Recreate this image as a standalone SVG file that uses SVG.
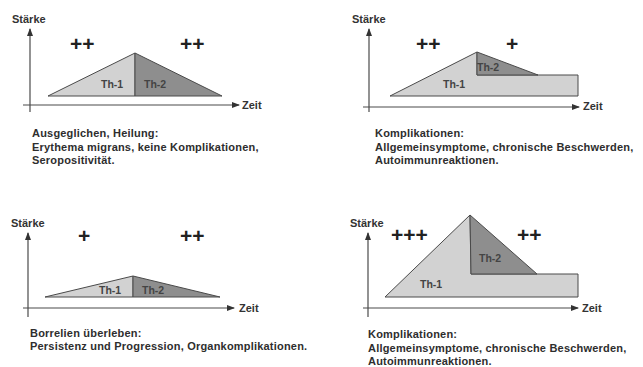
<svg xmlns="http://www.w3.org/2000/svg" width="643" height="367" viewBox="0 0 643 367">
<style>
  .ax { stroke: #4a4a4a; stroke-width: 1.2; fill: none; }
  .lbl { font-family: "Liberation Sans", Arial, sans-serif; font-weight: bold; font-size: 11px; fill: #333; }
  .cap { font-family: "Liberation Sans", Arial, sans-serif; font-weight: bold; font-size: 11px; letter-spacing: 0.2px; fill: #2e2e2e; }
  .plus { font-family: "Liberation Sans", Arial, sans-serif; font-weight: bold; font-size: 21px; fill: #222; }
  .th { font-family: "Liberation Sans", Arial, sans-serif; font-weight: bold; font-size: 10.5px; fill: #444; }
  .th1 { fill: #d2d2d2; stroke: #4a4a4a; stroke-width: 1; stroke-linejoin: round; }
  .th2 { fill: #8e8e8e; stroke: #4a4a4a; stroke-width: 1; stroke-linejoin: round; }
</style>
<defs>
  <marker id="arr" viewBox="0 0 8 6" refX="7" refY="3" markerWidth="8" markerHeight="6" markerUnits="userSpaceOnUse" orient="auto">
    <path d="M0,0 L8,3 L0,6 z" fill="#333"/>
  </marker>
</defs>
<rect width="643" height="367" fill="#ffffff"/>

<!-- Panel 1 -->
<g id="panel1">
  <g id="p1-axes" class="connectors">
    <line class="ax" x1="30" y1="112" x2="30" y2="29" marker-end="url(#arr)"/>
    <line class="ax" x1="23" y1="105" x2="239" y2="105" marker-end="url(#arr)"/>
  </g>
  <text class="lbl" x="12" y="23">Stärke</text>
  <text class="lbl" x="242" y="109">Zeit</text>
  <g id="p1-th1"><polygon class="th1" points="48,96 135,53 135,96"/><text class="th" x="101" y="88">Th-1</text></g>
  <g id="p1-th2"><polygon class="th2" points="135,53 222,96 135,96"/><text class="th" x="144" y="88">Th-2</text></g>
  <text class="plus" x="70" y="51">++</text>
  <text class="plus" x="180" y="51">++</text>
  <text class="cap" x="32" y="137">Ausgeglichen, Heilung:</text>
  <text class="cap" x="32" y="151">Erythema migrans, keine Komplikationen,</text>
  <text class="cap" x="32" y="164">Seropositivität.</text>
</g>

<!-- Panel 2 -->
<g id="panel2">
  <g id="p2-axes" class="connectors">
    <line class="ax" x1="369" y1="112" x2="369" y2="29" marker-end="url(#arr)"/>
    <line class="ax" x1="363" y1="107" x2="579" y2="107" marker-end="url(#arr)"/>
  </g>
  <text class="lbl" x="352" y="23">Stärke</text>
  <text class="lbl" x="583" y="110">Zeit</text>
  <g id="p2-th1"><polygon class="th1" points="390,96 477,52 477,75 578,75 578,96"/><text class="th" x="443" y="88">Th-1</text></g>
  <g id="p2-th2"><polygon class="th2" points="477,52 538,75 477,75"/><text class="th" x="477" y="71">Th-2</text></g>
  <text class="plus" x="416" y="51">++</text>
  <text class="plus" x="506" y="51">+</text>
  <text class="cap" x="375" y="137">Komplikationen:</text>
  <text class="cap" x="375" y="151">Allgemeinsymptome, chronische Beschwerden,</text>
  <text class="cap" x="375" y="164">Autoimmunreaktionen.</text>
</g>

<!-- Panel 3 -->
<g id="panel3">
  <g id="p3-axes" class="connectors">
    <line class="ax" x1="28" y1="317" x2="28" y2="233" marker-end="url(#arr)"/>
    <line class="ax" x1="23" y1="308" x2="234" y2="308" marker-end="url(#arr)"/>
  </g>
  <text class="lbl" x="11" y="227">Stärke</text>
  <text class="lbl" x="239" y="312">Zeit</text>
  <g id="p3-th1"><polygon class="th1" points="45,297 133,276 133,297"/><text class="th" x="99" y="294">Th-1</text></g>
  <g id="p3-th2"><polygon class="th2" points="133,276 220,297 133,297"/><text class="th" x="142" y="294">Th-2</text></g>
  <text class="plus" x="78" y="243">+</text>
  <text class="plus" x="180" y="243">++</text>
  <text class="cap" x="30" y="337">Borrelien überleben:</text>
  <text class="cap" x="30" y="350">Persistenz und Progression, Organkomplikationen.</text>
</g>

<!-- Panel 4 -->
<g id="panel4">
  <g id="p4-axes" class="connectors">
    <line class="ax" x1="368" y1="317" x2="368" y2="233" marker-end="url(#arr)"/>
    <line class="ax" x1="363" y1="308" x2="578" y2="308" marker-end="url(#arr)"/>
  </g>
  <text class="lbl" x="350" y="227">Stärke</text>
  <text class="lbl" x="582" y="312">Zeit</text>
  <g id="p4-th1"><polygon class="th1" points="385,297 470,215 471,274 578,274 578,297"/><text class="th" x="420" y="288">Th-1</text></g>
  <g id="p4-th2"><polygon class="th2" points="470,215 537,274 471,274"/><text class="th" x="479" y="262">Th-2</text></g>
  <text class="plus" x="391" y="242">+++</text>
  <text class="plus" x="517" y="242">++</text>
  <text class="cap" x="368" y="338">Komplikationen:</text>
  <text class="cap" x="368" y="352">Allgemeinsymptome, chronische Beschwerden,</text>
  <text class="cap" x="368" y="365">Autoimmunreaktionen.</text>
</g>
</svg>
